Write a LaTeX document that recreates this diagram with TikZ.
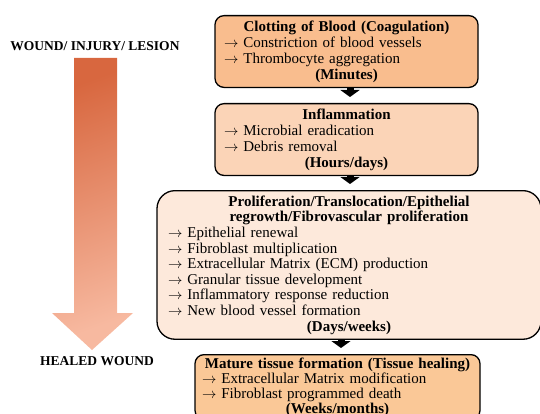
\documentclass[tikz,border=0pt]{standalone}
\usepackage{fontspec}
\setmainfont{Liberation Serif}
\usepackage{xcolor}
\usetikzlibrary{calc, positioning, arrows.meta}

\definecolor{clotfill}{HTML}{F9BD8E}
\definecolor{inflfill}{HTML}{FBD4B7}
\definecolor{prolfill}{HTML}{FDE9DB}
\definecolor{matfill}{HTML}{FAC897}
\definecolor{darkrust}{HTML}{D8673F}
\definecolor{lightrust}{HTML}{F7B9A0}

\newcommand{\itm}[1]{\makebox[\linewidth][l]{$\rightarrow$ #1}}

\tikzset{
  stage/.style={draw=black, line width=1.3pt, rounded corners=9pt, anchor=north,
    inner xsep=9pt, inner ysep=5pt, align=center,
    font=\fontsize{15}{16}\selectfont},
  flow/.style={line width=7pt, -{Triangle[width=19pt,length=7pt]}, shorten >=6pt},
  side/.style={font=\fontsize{13.5}{15}\selectfont\bfseries}
}

\begin{document}
\begin{tikzpicture}[x=1pt,y=1pt]
		\useasboundingbox (0,0) rectangle (540,413);

		% stages %
		\node[stage, fill=clotfill, text width=245pt] (clot) at (346.5,398)
			{\textbf{Clotting of Blood (Coagulation)}\\
			\itm{Constriction of blood vessels}\\
			\itm{Thrombocyte aggregation}\\
			\textbf{(Minutes)}};
		\node[stage, fill=inflfill, text width=245pt] (infl) at (346.5,310)
			{\textbf{Inflammation}\\
			\itm{Microbial eradication}\\
			\itm{Debris removal}\\
			\textbf{(Hours/days)}};
		\node[stage, fill=prolfill, text width=362pt, rounded corners=18pt, inner xsep=11pt,
			font=\fontsize{15}{15.6}\selectfont] (prol) at (349,223)
			{\textbf{Proliferation/Translocation/Epithelial}\\
			\textbf{regrowth/Fibrovascular proliferation}\\
			\itm{Epithelial renewal}\\
			\itm{Fibroblast multiplication}\\
			\itm{Extracellular Matrix (ECM) production}\\
			\itm{Granular tissue development}\\
			\itm{Inflammatory response reduction}\\
			\itm{New blood vessel formation}\\
			\textbf{(Days/weeks)}};
		\node[stage, fill=matfill, text width=271pt, inner xsep=7pt, inner ysep=3pt,
			font=\fontsize{15}{15}\selectfont] (mat) at (337.5,59)
			{\textbf{Mature tissue formation (Tissue healing)}\\
			\itm{Extracellular Matrix modification}\\
			\itm{Fibroblast programmed death}\\
			\textbf{(Weeks/months)}};

		% side labels %
		\node[side] (wound) at (95,367) {WOUND/ INJURY/ LESION};
		\node[side] (healed) at (97,52) {HEALED WOUND};

		% edges %
		\draw[flow] (clot.south -| 350,0) -- (infl.north -| 350,0);
		\draw[flow] (infl.south -| 350,0) -- (prol.north -| 350,0);
		\draw[flow] (prol.south -| 341,0) -- (mat.north -| 341,0);

		% big arrow %
		\shade[top color=darkrust, bottom color=lightrust, shading angle=20]
			(74,355) -- (117,355) -- (117,100) -- (133,100) -- (92,63)
			-- (52,100) -- (74,100) -- cycle;
		\end{tikzpicture}
\end{document}
